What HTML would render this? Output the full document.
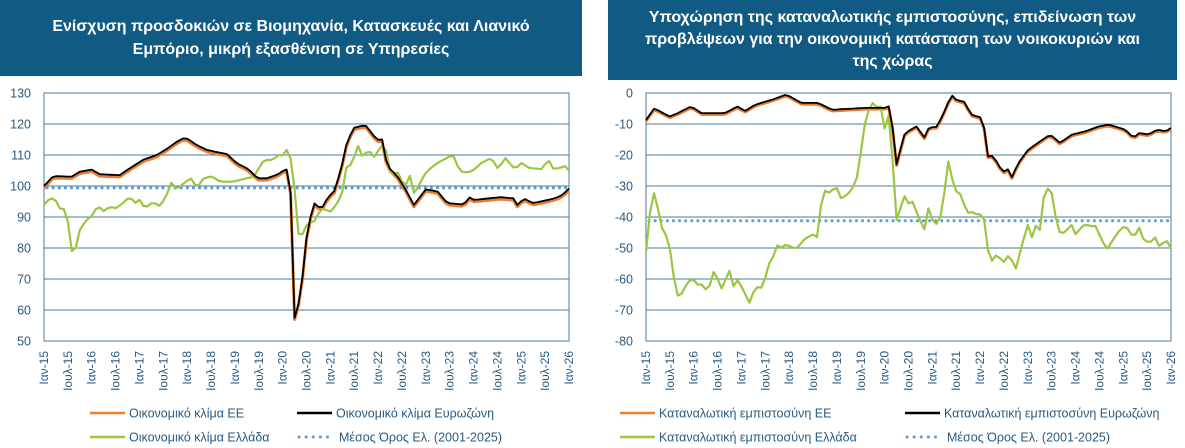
<!DOCTYPE html>
<html><head><meta charset="utf-8">
<style>
html,body{margin:0;padding:0;background:#fff;width:1185px;height:448px;overflow:hidden;font-family:"Liberation Sans","DejaVu Sans",sans-serif;}
.box{position:absolute;background:#115a84;color:#fff;font-weight:bold;font-size:16px;line-height:23px;text-align:center;display:flex;align-items:center;justify-content:center;}
svg{position:absolute;left:0;top:0;}
</style></head><body>
<div class="box" style="left:0;top:0;width:582px;height:76px;">Ενίσχυση προσδοκιών σε Βιομηχανία, Κατασκευές και Λιανικό<br>Εμπόριο, μικρή εξασθένιση σε Υπηρεσίες</div>
<div class="box" style="left:608px;top:0;width:569px;height:80px;line-height:22px;">Υποχώρηση της καταναλωτικής εμπιστοσύνης, επιδείνωση των<br>προβλέψεων για την οικονομική κατάσταση των νοικοκυριών και<br>της χώρας</div>
<svg id="s" width="1185" height="448" xmlns="http://www.w3.org/2000/svg" font-family="Liberation Sans, DejaVu Sans, sans-serif"></svg>
<script>
var S=document.getElementById('s'),h='';
function interp(pts){var o=[];for(var m=0;m<=132;m++){var i=0;while(i<pts.length-2&&pts[i+1][0]<m)i++;var a=pts[i],b=pts[i+1];var t=(m-a[0])/(b[0]-a[0]);t=Math.max(0,Math.min(1,t));o.push(a[1]+(b[1]-a[1])*t);}return o;}
function chart(L,R,T,B,vmax,vmin,step,series,avg){
 var fx=function(m){return L+m*(R-L)/132},fy=function(v){return T+(vmax-v)*(B-T)/(vmax-vmin)};
 for(var v=vmax;v>=vmin;v-=step){var y=fy(v);h+='<line x1="'+L+'" x2="'+R+'" y1="'+y+'" y2="'+y+'" stroke="#4a7b9d" stroke-width="1"/>';
  h+='<text x="'+(L-13)+'" y="'+(y+4.5)+'" font-size="12.5" fill="#2a5a80" text-anchor="end">'+v+'</text>';}
 h+='<rect x="'+L+'" y="'+T+'" width="'+(R-L)+'" height="'+(B-T)+'" fill="none" stroke="#4a7b9d" stroke-width="1"/>';
 for(var k=0;k<=22;k++){var x=fx(k*6)+4;var yr=15+Math.floor(k/2);var lab=(k%2?'Ιουλ-':'Ιαν-')+yr;
  h+='<text transform="translate('+x+','+(B+10)+') rotate(-90)" font-size="12" fill="#2a5a80" text-anchor="end">'+lab+'</text>';}
 h+='<line x1="'+(L+3)+'" x2="'+R+'" y1="'+fy(avg)+'" y2="'+fy(avg)+'" stroke="#5b9bd5" stroke-width="3" stroke-dasharray="0.1,6" stroke-linecap="round"/>';
 series.forEach(function(s){var d=interp(s.p);var p='';d.forEach(function(v,m){p+=(m?'L':'M')+fx(m).toFixed(1)+','+fy(v+(s.off||0)).toFixed(1)});
  h+='<path d="'+p+'" fill="none" stroke="'+s.c+'" stroke-width="'+s.w+'" stroke-linejoin="round"/>';});
}
var lb=[[0,100],[2.3,103.2],[6.9,103],[9,104.6],[12,105.3],[14,103.8],[19,103.5],[22.5,106.5],[25,108.5],[28.4,110],[30.9,112],[33.4,114.3],[35.5,115.7],[38.4,113.2],[41,111.6],[46,110.3],[48.5,107.3],[51.5,105.4],[53.6,102.5],[56,102.5],[58.6,103.6],[60.7,105.4],[61.5,105.2],[62.2,95],[63,57.5],[64.5,64.3],[66.2,85.8],[67.9,94.5],[69.7,92.5],[71.4,96.4],[73.1,98.5],[74.8,106],[76.1,113.8],[77.8,118.7],[80.8,119.7],[83.7,114.9],[85,115],[86.3,106.4],[88.8,103.2],[90.9,98.9],[93,93.9],[96,98.9],[98.9,98.3],[101.4,94.5],[105.6,94],[106.9,96.4],[108.1,95.5],[114.8,96.4],[118.2,96],[119,93.9],[120.7,96],[122.8,94.5],[124.9,95],[128.3,96],[130.4,97.1],[132,99.2]];
var lg=[[0,93.9],[1.4,96],[2.7,96],[3.9,92.8],[5.6,92.3],[7.3,76.1],[9,85.8],[10.6,89],[12.3,90.6],[13.5,93.9],[14.8,91.7],[16.5,93.3],[18.2,92.8],[20.3,95],[21.6,96.6],[22.8,94.4],[24,95.5],[25.4,92.8],[27.5,95],[28.8,93.3],[30.5,96],[32.1,101.4],[33.4,98.7],[35.5,101.4],[37.2,102.5],[38.4,99.2],[40.1,102.5],[42.2,103.1],[44.3,101.4],[47.7,101.4],[49.4,102],[52.7,103],[55.3,108.4],[57.4,108.4],[59.5,110.5],[60.3,109.5],[61.2,112.2],[62.4,107.3],[64.1,83.2],[64.5,83],[66.2,87.9],[67.9,88.5],[69.7,92.8],[72.2,91.7],[74.8,96.6],[76,105.9],[77.3,107],[79,112.9],[80.2,109.1],[81.5,111.8],[83.2,109.1],[84.8,113.4],[86.1,111.3],[87.3,102.7],[88.6,105.4],[90.7,99.4],[91.9,103.8],[93.1,97.3],[95.7,103.8],[97.3,105.9],[99,107.5],[100.7,108.6],[102.8,110.2],[104.5,104.8],[106.6,104.3],[108.3,105.4],[110,107.5],[112.5,109.1],[114.2,105.4],[115.9,109.1],[118.4,105.4],[120.1,107.5],[121.8,105.9],[125.2,105.4],[126.8,108.6],[128.1,105.4],[129.8,105.9],[131,106.4],[132,105]];
chart(44,569,93,341,130,50,10,[{p:lb,c:'#ed7d31',w:3,off:-0.6},{p:lg,c:'#9bc641',w:2.2},{p:lb,c:'#000',w:1.8}],99.4);
var rb=[[0,-8.7],[2.1,-4.9],[5.9,-7.6],[8,-6.5],[11.4,-4.3],[13.9,-6.5],[19.8,-6.5],[23.1,-4.3],[24.8,-5.9],[27.4,-3.8],[31.6,-2.2],[35.3,-0.5],[39.1,-3.2],[43.3,-3.2],[46.7,-5.4],[55.1,-4.8],[60.1,-4.8],[61,-4.3],[61.5,-5.4],[63,-23],[65.1,-12.9],[68,-10.8],[70.1,-14.5],[71.4,-10.2],[72.6,-11.8],[74.3,-8.1],[76.8,-0.6],[78.5,-2.8],[79.7,-2.2],[81.8,-7],[84.8,-8.1],[85.6,-20.5],[87.3,-20.3],[89.8,-25.8],[90.7,-23.7],[91.9,-27.4],[93.6,-22.6],[96.1,-18.3],[99.1,-15.6],[101.6,-13.4],[104.1,-16.1],[107.1,-13.4],[110.4,-12.4],[113.8,-10.8],[116.3,-10.2],[120.5,-11.8],[122.6,-14.5],[123.9,-12.9],[126.4,-13.4],[128.5,-11.8],[130.6,-12.4],[132,-11.3]];
var rg=[[0,-51.2],[1.2,-36],[2.5,-30.1],[3.4,-43],[4.6,-44],[6.3,-51.6],[7.5,-65],[8.8,-66],[9.6,-60.7],[10.5,-63.9],[11.3,-58.5],[12.6,-61.8],[14.3,-61.8],[15.5,-64.4],[17.2,-56.9],[18.9,-63.3],[21,-57.4],[22.2,-63.3],[23.1,-60.1],[26,-67.6],[27.3,-63.3],[28.5,-62.2],[29.4,-63.3],[30.6,-55.8],[32.3,-52],[33.1,-48.8],[34,-49.9],[35.2,-48.8],[37.7,-50.4],[39.8,-47.2],[41.9,-45.6],[43.2,-46.6],[44.4,-31.2],[46.1,-32.2],[47.8,-30.1],[49,-33.9],[50.7,-32.8],[52.8,-29],[54.5,-15.1],[55.3,-7.1],[57,-3.3],[58.3,-4.9],[59.1,-4.4],[59.9,-11.9],[61.2,-6.5],[63,-40.9],[65.1,-32.9],[66,-35.6],[66.8,-34.5],[68.5,-39.9],[70.1,-44.2],[71,-37.2],[72.6,-43.1],[74.3,-39.4],[76,-22.1],[77.6,-31.3],[79.3,-32.9],[80.6,-38.8],[81.8,-38.3],[83.5,-39.4],[84.8,-38.8],[86.1,-51.7],[87.3,-54.9],[88.2,-51.7],[89.8,-54.9],[91.5,-51.7],[92.8,-57.6],[94.4,-49.6],[96.1,-42.1],[96.9,-46.9],[98.2,-42.1],[99,-44.2],[99.9,-34],[101.6,-29.2],[103.6,-44.7],[105.7,-45.3],[106.6,-41],[107.8,-45.8],[110.4,-42.1],[111.6,-43.1],[112.9,-42.6],[115.8,-50.6],[118.8,-44.7],[120.5,-42.6],[122.6,-46.9],[123.9,-43.1],[125.1,-47.4],[126.8,-48.5],[127.7,-45.8],[129.3,-50.1],[130.6,-46.9],[132,-50.1]];
chart(646,1171,93,341,0,-80,10,[{p:rb,c:'#ed7d31',w:3,off:-0.4},{p:rg,c:'#9bc641',w:2.2},{p:rb,c:'#000',w:1.8}],-41.2);
function leg(x,y,t,c,dot){h+=dot?'<line x1="'+(x+2)+'" x2="'+(x+33)+'" y1="'+y+'" y2="'+y+'" stroke="#5b9bd5" stroke-width="3" stroke-dasharray="0.1,7" stroke-linecap="round"/>':'<line x1="'+x+'" x2="'+(x+35)+'" y1="'+y+'" y2="'+y+'" stroke="'+c+'" stroke-width="2.5"/>';
 h+='<text x="'+(x+(dot?42:39))+'" y="'+(y+4.5)+'" font-size="12.5" fill="#2a5a80">'+t+'</text>';}
leg(90,413,'Οικονομικό κλίμα ΕΕ','#ed7d31');leg(297,413,'Οικονομικό κλίμα Ευρωζώνη','#000');
leg(90,437,'Οικονομικό κλίμα Ελλάδα','#9bc641');leg(297,437,'Μέσος Όρος Ελ. (2001-2025)','',1);
leg(620,413,'Καταναλωτική εμπιστοσύνη ΕΕ','#ed7d31');leg(905,413,'Καταναλωτική εμπιστοσύνη Ευρωζώνη','#000');
leg(620,437,'Καταναλωτική εμπιστοσύνη Ελλάδα','#9bc641');leg(905,437,'Μέσος Όρος Ελ. (2001-2025)','',1);
S.innerHTML=h;
</script>
</body></html>
